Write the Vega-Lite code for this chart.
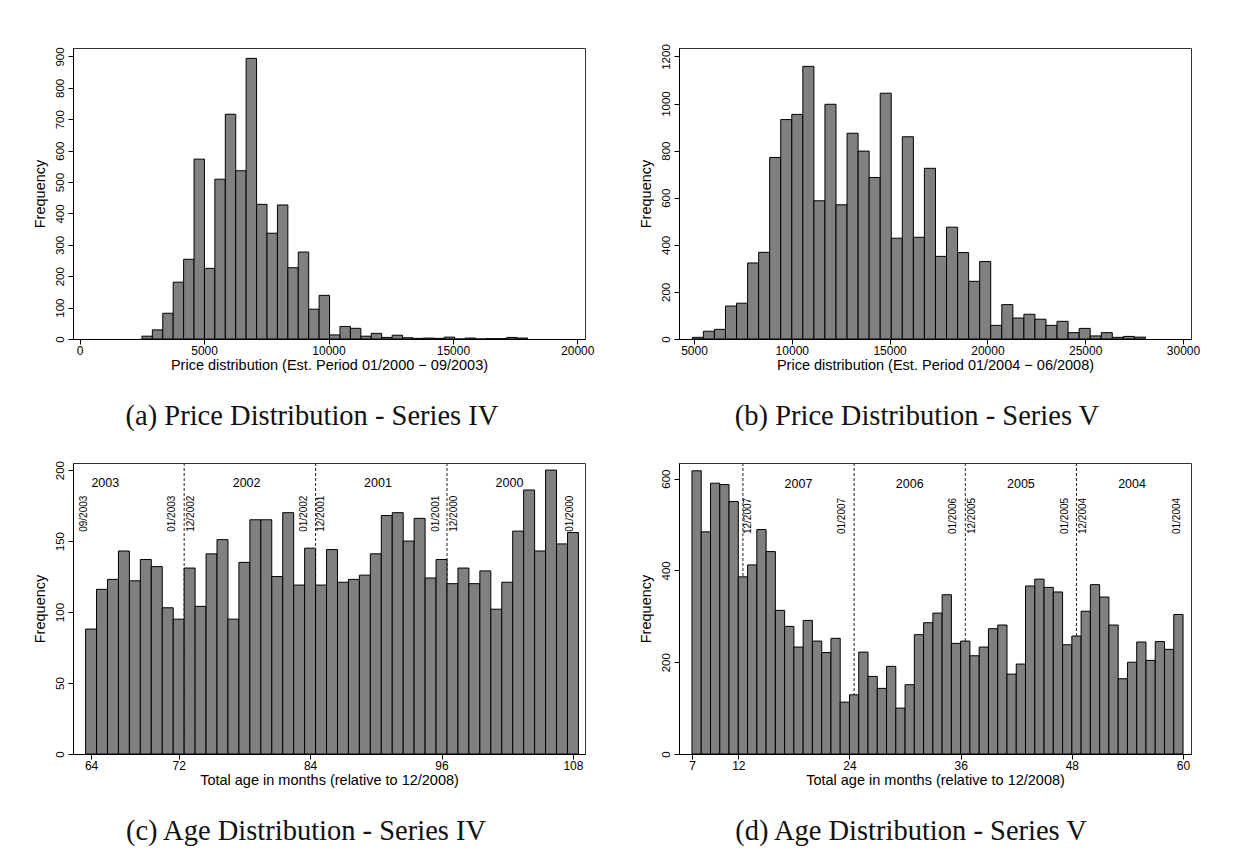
{
  "$schema": "https://vega.github.io/schema/vega-lite/v6.json",
  "padding": {"left": 31, "top": 43, "right": 0, "bottom": 0},
  "background": "white",
  "datasets": {
    "priceIV": [
      {"lo": 2500, "hi": 2919, "n": 9},
      {"lo": 2919, "hi": 3338, "n": 29},
      {"lo": 3338, "hi": 3757, "n": 82},
      {"lo": 3757, "hi": 4176, "n": 181},
      {"lo": 4176, "hi": 4595, "n": 254},
      {"lo": 4595, "hi": 5014, "n": 573},
      {"lo": 5014, "hi": 5433, "n": 225},
      {"lo": 5433, "hi": 5852, "n": 509},
      {"lo": 5852, "hi": 6271, "n": 716},
      {"lo": 6271, "hi": 6690, "n": 536},
      {"lo": 6690, "hi": 7109, "n": 894},
      {"lo": 7109, "hi": 7528, "n": 429},
      {"lo": 7528, "hi": 7947, "n": 337},
      {"lo": 7947, "hi": 8366, "n": 427},
      {"lo": 8366, "hi": 8785, "n": 227},
      {"lo": 8785, "hi": 9204, "n": 277},
      {"lo": 9204, "hi": 9623, "n": 95},
      {"lo": 9623, "hi": 10042, "n": 139},
      {"lo": 10042, "hi": 10461, "n": 13},
      {"lo": 10461, "hi": 10880, "n": 40},
      {"lo": 10880, "hi": 11299, "n": 34},
      {"lo": 11299, "hi": 11718, "n": 9},
      {"lo": 11718, "hi": 12137, "n": 18},
      {"lo": 12137, "hi": 12556, "n": 5},
      {"lo": 12556, "hi": 12975, "n": 12},
      {"lo": 12975, "hi": 13394, "n": 4},
      {"lo": 13394, "hi": 13813, "n": 2},
      {"lo": 13813, "hi": 14232, "n": 3},
      {"lo": 14232, "hi": 14651, "n": 2},
      {"lo": 14651, "hi": 15070, "n": 6},
      {"lo": 15070, "hi": 15489, "n": 0},
      {"lo": 15489, "hi": 15908, "n": 3},
      {"lo": 15908, "hi": 16327, "n": 0},
      {"lo": 16327, "hi": 16746, "n": 1},
      {"lo": 16746, "hi": 17165, "n": 1},
      {"lo": 17165, "hi": 17584, "n": 5},
      {"lo": 17584, "hi": 18003, "n": 3}
    ],
    "priceV": [
      {"lo": 4915, "hi": 5480, "n": 7},
      {"lo": 5480, "hi": 6045, "n": 33},
      {"lo": 6045, "hi": 6610, "n": 41},
      {"lo": 6610, "hi": 7175, "n": 140},
      {"lo": 7175, "hi": 7740, "n": 152},
      {"lo": 7740, "hi": 8305, "n": 323},
      {"lo": 8305, "hi": 8870, "n": 368},
      {"lo": 8870, "hi": 9435, "n": 771},
      {"lo": 9435, "hi": 10000, "n": 932},
      {"lo": 10000, "hi": 10565, "n": 954},
      {"lo": 10565, "hi": 11130, "n": 1158},
      {"lo": 11130, "hi": 11695, "n": 587},
      {"lo": 11695, "hi": 12260, "n": 997},
      {"lo": 12260, "hi": 12825, "n": 570},
      {"lo": 12825, "hi": 13390, "n": 874},
      {"lo": 13390, "hi": 13955, "n": 798},
      {"lo": 13955, "hi": 14520, "n": 686},
      {"lo": 14520, "hi": 15085, "n": 1044},
      {"lo": 15085, "hi": 15650, "n": 428},
      {"lo": 15650, "hi": 16215, "n": 859},
      {"lo": 16215, "hi": 16780, "n": 432},
      {"lo": 16780, "hi": 17345, "n": 725},
      {"lo": 17345, "hi": 17910, "n": 351},
      {"lo": 17910, "hi": 18475, "n": 475},
      {"lo": 18475, "hi": 19040, "n": 367},
      {"lo": 19040, "hi": 19605, "n": 245},
      {"lo": 19605, "hi": 20170, "n": 329},
      {"lo": 20170, "hi": 20735, "n": 58},
      {"lo": 20735, "hi": 21300, "n": 146},
      {"lo": 21300, "hi": 21865, "n": 89},
      {"lo": 21865, "hi": 22430, "n": 105},
      {"lo": 22430, "hi": 22995, "n": 84},
      {"lo": 22995, "hi": 23560, "n": 58},
      {"lo": 23560, "hi": 24125, "n": 75},
      {"lo": 24125, "hi": 24690, "n": 27},
      {"lo": 24690, "hi": 25255, "n": 45},
      {"lo": 25255, "hi": 25820, "n": 13},
      {"lo": 25820, "hi": 26385, "n": 27},
      {"lo": 26385, "hi": 26950, "n": 7},
      {"lo": 26950, "hi": 27515, "n": 11},
      {"lo": 27515, "hi": 28080, "n": 8}
    ],
    "ageIV": [
      {"lo": 63.5, "hi": 64.5, "n": 88},
      {"lo": 64.5, "hi": 65.5, "n": 116},
      {"lo": 65.5, "hi": 66.5, "n": 123},
      {"lo": 66.5, "hi": 67.5, "n": 143},
      {"lo": 67.5, "hi": 68.5, "n": 122},
      {"lo": 68.5, "hi": 69.5, "n": 137},
      {"lo": 69.5, "hi": 70.5, "n": 132},
      {"lo": 70.5, "hi": 71.5, "n": 103},
      {"lo": 71.5, "hi": 72.5, "n": 95},
      {"lo": 72.5, "hi": 73.5, "n": 131},
      {"lo": 73.5, "hi": 74.5, "n": 104},
      {"lo": 74.5, "hi": 75.5, "n": 141},
      {"lo": 75.5, "hi": 76.5, "n": 151},
      {"lo": 76.5, "hi": 77.5, "n": 95},
      {"lo": 77.5, "hi": 78.5, "n": 135},
      {"lo": 78.5, "hi": 79.5, "n": 165},
      {"lo": 79.5, "hi": 80.5, "n": 165},
      {"lo": 80.5, "hi": 81.5, "n": 125},
      {"lo": 81.5, "hi": 82.5, "n": 170},
      {"lo": 82.5, "hi": 83.5, "n": 119},
      {"lo": 83.5, "hi": 84.5, "n": 145},
      {"lo": 84.5, "hi": 85.5, "n": 119},
      {"lo": 85.5, "hi": 86.5, "n": 144},
      {"lo": 86.5, "hi": 87.5, "n": 121},
      {"lo": 87.5, "hi": 88.5, "n": 123},
      {"lo": 88.5, "hi": 89.5, "n": 126},
      {"lo": 89.5, "hi": 90.5, "n": 141},
      {"lo": 90.5, "hi": 91.5, "n": 168},
      {"lo": 91.5, "hi": 92.5, "n": 170},
      {"lo": 92.5, "hi": 93.5, "n": 150},
      {"lo": 93.5, "hi": 94.5, "n": 166},
      {"lo": 94.5, "hi": 95.5, "n": 124},
      {"lo": 95.5, "hi": 96.5, "n": 137},
      {"lo": 96.5, "hi": 97.5, "n": 120},
      {"lo": 97.5, "hi": 98.5, "n": 131},
      {"lo": 98.5, "hi": 99.5, "n": 120},
      {"lo": 99.5, "hi": 100.5, "n": 129},
      {"lo": 100.5, "hi": 101.5, "n": 102},
      {"lo": 101.5, "hi": 102.5, "n": 121},
      {"lo": 102.5, "hi": 103.5, "n": 157},
      {"lo": 103.5, "hi": 104.5, "n": 186},
      {"lo": 104.5, "hi": 105.5, "n": 143},
      {"lo": 105.5, "hi": 106.5, "n": 200},
      {"lo": 106.5, "hi": 107.5, "n": 148},
      {"lo": 107.5, "hi": 108.5, "n": 156}
    ],
    "ageV": [
      {"lo": 7, "hi": 8, "n": 617},
      {"lo": 8, "hi": 9, "n": 484},
      {"lo": 9, "hi": 10, "n": 590},
      {"lo": 10, "hi": 11, "n": 587},
      {"lo": 11, "hi": 12, "n": 550},
      {"lo": 12, "hi": 13, "n": 386},
      {"lo": 13, "hi": 14, "n": 412},
      {"lo": 14, "hi": 15, "n": 489},
      {"lo": 15, "hi": 16, "n": 441},
      {"lo": 16, "hi": 17, "n": 313},
      {"lo": 17, "hi": 18, "n": 278},
      {"lo": 18, "hi": 19, "n": 233},
      {"lo": 19, "hi": 20, "n": 291},
      {"lo": 20, "hi": 21, "n": 246},
      {"lo": 21, "hi": 22, "n": 221},
      {"lo": 22, "hi": 23, "n": 252},
      {"lo": 23, "hi": 24, "n": 113},
      {"lo": 24, "hi": 25, "n": 129},
      {"lo": 25, "hi": 26, "n": 222},
      {"lo": 26, "hi": 27, "n": 169},
      {"lo": 27, "hi": 28, "n": 143},
      {"lo": 28, "hi": 29, "n": 191},
      {"lo": 29, "hi": 30, "n": 100},
      {"lo": 30, "hi": 31, "n": 151},
      {"lo": 31, "hi": 32, "n": 260},
      {"lo": 32, "hi": 33, "n": 286},
      {"lo": 33, "hi": 34, "n": 307},
      {"lo": 34, "hi": 35, "n": 347},
      {"lo": 35, "hi": 36, "n": 241},
      {"lo": 36, "hi": 37, "n": 246},
      {"lo": 37, "hi": 38, "n": 214},
      {"lo": 38, "hi": 39, "n": 233},
      {"lo": 39, "hi": 40, "n": 273},
      {"lo": 40, "hi": 41, "n": 281},
      {"lo": 41, "hi": 42, "n": 174},
      {"lo": 42, "hi": 43, "n": 196},
      {"lo": 43, "hi": 44, "n": 366},
      {"lo": 44, "hi": 45, "n": 381},
      {"lo": 45, "hi": 46, "n": 363},
      {"lo": 46, "hi": 47, "n": 353},
      {"lo": 47, "hi": 48, "n": 238},
      {"lo": 48, "hi": 49, "n": 257},
      {"lo": 49, "hi": 50, "n": 311},
      {"lo": 50, "hi": 51, "n": 369},
      {"lo": 51, "hi": 52, "n": 342},
      {"lo": 52, "hi": 53, "n": 281},
      {"lo": 53, "hi": 54, "n": 164},
      {"lo": 54, "hi": 55, "n": 200},
      {"lo": 55, "hi": 56, "n": 244},
      {"lo": 56, "hi": 57, "n": 204},
      {"lo": 57, "hi": 58, "n": 245},
      {"lo": 58, "hi": 59, "n": 228},
      {"lo": 59, "hi": 60, "n": 304}
    ],
    "yearEndsIV": [{"month": 72.5}, {"month": 84.5}, {"month": 96.5}],
    "yearEndsV": [{"month": 12.5}, {"month": 24.5}, {"month": 36.5}, {"month": 48.5}],
    "yearsIV": [
      {"month": 65.3, "year": "2003"},
      {"month": 78.2, "year": "2002"},
      {"month": 90.2, "year": "2001"},
      {"month": 102.2, "year": "2000"}
    ],
    "yearsV": [
      {"month": 18.5, "year": "2007"},
      {"month": 30.5, "year": "2006"},
      {"month": 42.5, "year": "2005"},
      {"month": 54.5, "year": "2004"}
    ],
    "datesIV": [
      {"month": 63.4, "date": "09/2003"},
      {"month": 71.4, "date": "01/2003"},
      {"month": 73.1, "date": "12/2002"},
      {"month": 83.4, "date": "01/2002"},
      {"month": 85.0, "date": "12/2001"},
      {"month": 95.5, "date": "01/2001"},
      {"month": 97.1, "date": "12/2000"},
      {"month": 107.7, "date": "01/2000"}
    ],
    "datesV": [
      {"month": 13.1, "date": "12/2007"},
      {"month": 23.2, "date": "01/2007"},
      {"month": 35.2, "date": "01/2006"},
      {"month": 37.2, "date": "12/2005"},
      {"month": 47.3, "date": "01/2005"},
      {"month": 49.2, "date": "12/2004"},
      {"month": 59.4, "date": "01/2004"}
    ]
  },
  "columns": 2,
  "spacing": {"row": 124, "column": 94},
  "bounds": "flush",
  "concat": [
    {
      "width": 512,
      "height": 291,
      "title": {"text": "(a) Price Distribution - Series IV", "dx": -17},
      "data": {"name": "priceIV"},
      "mark": {"type": "bar", "fill": "#808080", "stroke": "#000000", "strokeWidth": 1},
      "encoding": {
        "x": {"field": "lo", "type": "quantitative",
              "scale": {"domain": [-270, 20310], "nice": false, "zero": false},
              "axis": {"values": [0, 5000, 10000, 15000, 20000], "format": "d",
                       "title": "Price distribution (Est. Period 01/2000 − 09/2003)"}},
        "x2": {"field": "hi"},
        "y": {"field": "n", "type": "quantitative",
              "scale": {"domain": [0, 927], "nice": false},
              "axis": {"values": [0, 100, 200, 300, 400, 500, 600, 700, 800, 900], "format": "d", "title": "Frequency"}},
        "y2": {"datum": 0}
      }
    },
    {
      "width": 512,
      "height": 291,
      "title": {"text": "(b) Price Distribution - Series V", "dx": -18},
      "data": {"name": "priceV"},
      "mark": {"type": "bar", "fill": "#808080", "stroke": "#000000", "strokeWidth": 1},
      "encoding": {
        "x": {"field": "lo", "type": "quantitative",
              "scale": {"domain": [4234, 30408], "nice": false, "zero": false},
              "axis": {"values": [5000, 10000, 15000, 20000, 25000, 30000], "format": "d",
                       "title": "Price distribution (Est. Period 01/2004 − 06/2008)"}},
        "x2": {"field": "hi"},
        "y": {"field": "n", "type": "quantitative",
              "scale": {"domain": [0, 1236], "nice": false},
              "axis": {"values": [0, 200, 400, 600, 800, 1000, 1200], "format": "d", "title": "Frequency"}},
        "y2": {"datum": 0}
      }
    },
    {
      "width": 512,
      "height": 291,
      "title": {"text": "(c) Age Distribution - Series IV", "dx": -23},
      "layer": [
        {
          "data": {"name": "yearEndsIV"},
          "mark": {"type": "rule", "color": "#222222", "strokeWidth": 1, "strokeDash": [3, 2]},
          "encoding": {
            "x": {"field": "month", "type": "quantitative", "scale": {"domain": [62.35, 109.1], "nice": false, "zero": false}}
          }
        },
        {
          "data": {"name": "ageIV"},
          "mark": {"type": "bar", "fill": "#808080", "stroke": "#000000", "strokeWidth": 1},
          "encoding": {
            "x": {"field": "lo", "type": "quantitative",
                  "scale": {"domain": [62.35, 109.1], "nice": false, "zero": false},
                  "axis": {"values": [64, 72, 84, 96, 108], "format": "d",
                           "title": "Total age in months (relative to 12/2008)"}},
            "x2": {"field": "hi"},
            "y": {"field": "n", "type": "quantitative",
                  "scale": {"domain": [0, 205], "nice": false},
                  "axis": {"values": [0, 50, 100, 150, 200], "format": "d", "title": "Frequency"}},
            "y2": {"datum": 0}
          }
        },
        {
          "data": {"name": "yearsIV"},
          "mark": {"type": "text", "fontSize": 12.5, "align": "center", "baseline": "middle", "color": "#000000"},
          "encoding": {
            "x": {"field": "month", "type": "quantitative", "scale": {"domain": [62.35, 109.1], "nice": false, "zero": false}},
            "y": {"datum": 191, "scale": {"domain": [0, 205], "nice": false}},
            "text": {"field": "year"}
          }
        },
        {
          "data": {"name": "datesIV"},
          "mark": {"type": "text", "fontSize": 10, "angle": 270, "align": "right", "baseline": "middle", "color": "#000000"},
          "encoding": {
            "x": {"field": "month", "type": "quantitative", "scale": {"domain": [62.35, 109.1], "nice": false, "zero": false}},
            "y": {"datum": 182, "scale": {"domain": [0, 205], "nice": false}},
            "text": {"field": "date"}
          }
        }
      ]
    },
    {
      "width": 512,
      "height": 291,
      "title": {"text": "(d) Age Distribution - Series V", "dx": -24},
      "layer": [
        {
          "data": {"name": "yearEndsV"},
          "mark": {"type": "rule", "color": "#222222", "strokeWidth": 1, "strokeDash": [3, 2]},
          "encoding": {
            "x": {"field": "month", "type": "quantitative", "scale": {"domain": [5.6, 60.86], "nice": false, "zero": false}}
          }
        },
        {
          "data": {"name": "ageV"},
          "mark": {"type": "bar", "fill": "#808080", "stroke": "#000000", "strokeWidth": 1},
          "encoding": {
            "x": {"field": "lo", "type": "quantitative",
                  "scale": {"domain": [5.6, 60.86], "nice": false, "zero": false},
                  "axis": {"values": [7, 12, 24, 36, 48, 60], "format": "d",
                           "title": "Total age in months (relative to 12/2008)"}},
            "x2": {"field": "hi"},
            "y": {"field": "n", "type": "quantitative",
                  "scale": {"domain": [0, 634], "nice": false},
                  "axis": {"values": [0, 200, 400, 600], "format": "d", "title": "Frequency"}},
            "y2": {"datum": 0}
          }
        },
        {
          "data": {"name": "yearsV"},
          "mark": {"type": "text", "fontSize": 12.5, "align": "center", "baseline": "middle", "color": "#000000"},
          "encoding": {
            "x": {"field": "month", "type": "quantitative", "scale": {"domain": [5.6, 60.86], "nice": false, "zero": false}},
            "y": {"datum": 589, "scale": {"domain": [0, 634], "nice": false}},
            "text": {"field": "year"}
          }
        },
        {
          "data": {"name": "datesV"},
          "mark": {"type": "text", "fontSize": 10, "angle": 270, "align": "right", "baseline": "middle", "color": "#000000"},
          "encoding": {
            "x": {"field": "month", "type": "quantitative", "scale": {"domain": [5.6, 60.86], "nice": false, "zero": false}},
            "y": {"datum": 558, "scale": {"domain": [0, 634], "nice": false}},
            "text": {"field": "date"}
          }
        }
      ]
    }
  ],
  "config": {
    "font": "Liberation Sans",
    "view": {"stroke": "#333333", "strokeWidth": 1},
    "text": {"font": "Liberation Sans"},
    "axis": {
      "grid": false,
      "domainColor": "#000000",
      "domainWidth": 1,
      "tickColor": "#000000",
      "tickWidth": 1,
      "tickSize": 5,
      "labelColor": "#000000",
      "labelFont": "Liberation Sans",
      "labelFlush": false,
      "labelOverlap": false,
      "titleFont": "Liberation Sans",
      "titleFontSize": 14.5,
      "titleFontWeight": "normal",
      "titleColor": "#000000"
    },
    "axisX": {"labelFontSize": 12, "labelPadding": 1, "titlePadding": 2},
    "axisY": {"labelFontSize": 11.5, "labelAngle": 270, "labelAlign": "center", "labelBaseline": "alphabetic", "labelPadding": 5, "titlePadding": 7},
    "title": {
      "orient": "bottom",
      "anchor": "middle",
      "frame": "group",
      "baseline": "top",
      "offset": 30,
      "font": "Liberation Serif",
      "fontSize": 28.5,
      "fontWeight": "normal",
      "color": "#111111"
    }
  }
}
